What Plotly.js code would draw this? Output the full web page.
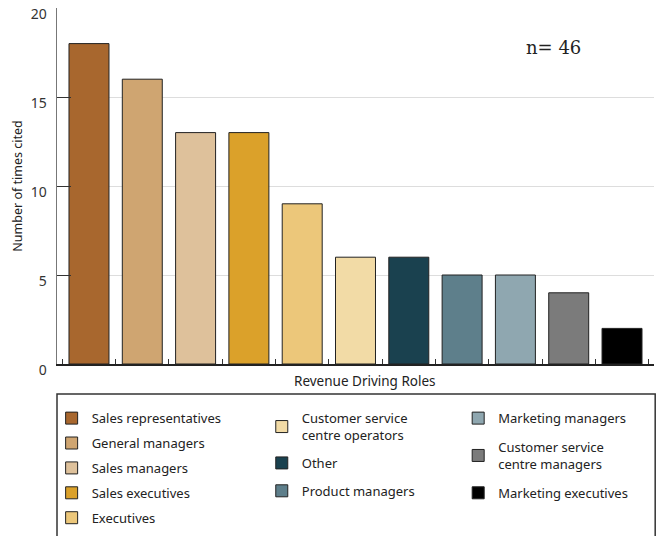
<!DOCTYPE html>
<html><head><meta charset="utf-8">
<script src="https://cdn.plot.ly/plotly-3.0.1.min.js"></script>
<style>html,body{margin:0;padding:0;background:#fff;}</style>
</head><body>
<div id="chart" style="width:659px;height:536px;"></div>
<script>
var roles = ["Sales representatives","General managers","Sales managers","Sales executives","Executives",
  "Customer service<br>centre operators","Other","Product managers","Marketing managers",
  "Customer service<br>centre managers","Marketing executives"];
var counts = [18,16,13,13,9,6,6,5,5,4,2];
var colors = ["#A8672E","#CFA571","#DEC19B","#DBA12A","#ECC77A","#F2DBA6","#1A414F","#5E7F8B","#8FA7B0","#7B7B7B","#000000"];
var legendCol = ["legend","legend","legend","legend","legend","legend2","legend2","legend2","legend3","legend3","legend3"];
var sampleSize = 46;

var traces = roles.map(function(r,i){
  return {type:"bar", x:[i], y:[counts[i]], name:r, legend:legendCol[i], legendgroup:"g"+i,
    marker:{color:colors[i], line:{color:"#222", width:1}}, hoverinfo:"y"};
});
var font = "Noto Sans, sans-serif";
function leg(x, y, gap){
  return {x:x, y:y, orientation:"v", xanchor:"left", yanchor:"top", bgcolor:"rgba(0,0,0,0)",
    font:{family:font, size:13, color:"#222"}, tracegroupgap:gap, itemwidth:30};
}
var layout = {
  width:659, height:536,
  margin:{l:57, r:5, t:8, b:172, autoexpand:false},
  paper_bgcolor:"#fff", plot_bgcolor:"#fff",
  barmode:"overlay",
  font:{family:font, color:"#333"},
  xaxis:{range:[-0.6,10.6], tickmode:"array", tickvals:[-0.5,0.5,1.5,2.5,3.5,4.5,5.5,6.5,7.5,8.5,9.5,10.5],
    ticks:"inside", ticklen:5, tickcolor:"#333", showticklabels:false, showgrid:false, zeroline:false,
    showline:true, linecolor:"#222", linewidth:1.5},
  yaxis:{range:[0,20], tickvals:[0,5,10,15,20], ticks:"inside", ticklen:14, tickcolor:"#333",
    showgrid:true, gridcolor:"#dddddd", gridwidth:1, zeroline:false,
    showline:true, linecolor:"#777", linewidth:1.5,
    tickfont:{size:14, color:"#333"}, ticklabelshift:6, ticklabelstandoff:6,
    title:{text:"Number of times cited", font:{size:12.5, color:"#222"}, standoff:5}},
  bargap:0.25,
  legend:leg(-0.009, -0.11, 5),
  legend2:leg(0.343, -0.11, 8),
  legend3:leg(0.672, -0.11, 9),
  shapes:[{type:"rect", xref:"paper", yref:"paper", x0:0, x1:1.002, y0:-0.084, y1:-0.6,
    line:{color:"#333", width:1.5}, fillcolor:"rgba(0,0,0,0)"}],
  annotations:[
    {xref:"paper", yref:"paper", x:0.831, y:0.888, xanchor:"center", yanchor:"middle",
     text:"n= "+sampleSize, showarrow:false, font:{family:"DejaVu Serif, serif", size:18, color:"#222"}},
    {xref:"paper", yref:"paper", x:0.516, y:-0.048, xanchor:"center", yanchor:"middle",
     text:"Revenue Driving Roles", showarrow:false, font:{family:font, size:13.5, color:"#222"}}
  ]
};
Plotly.newPlot("chart", traces, layout, {staticPlot:true});
</script>
</body></html>
